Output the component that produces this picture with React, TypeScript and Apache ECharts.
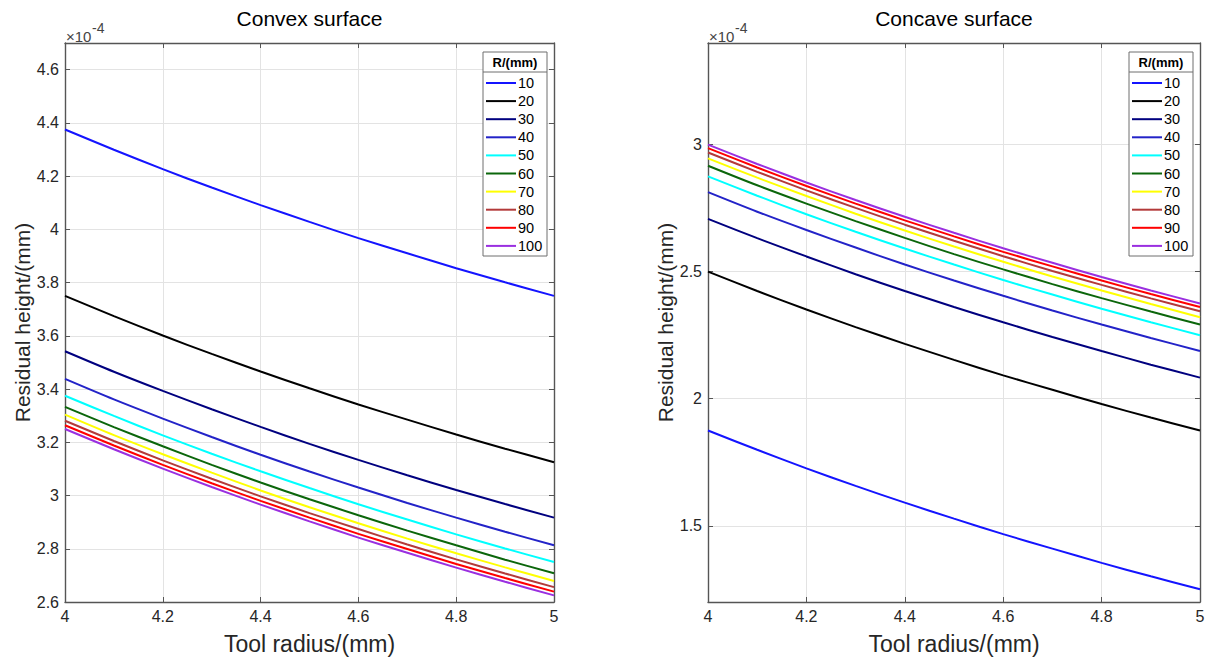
import React, { useEffect, useRef } from 'react';
import * as echarts from 'echarts';

// Tool radius (mm)
const toolRadius = [4.0, 4.1, 4.2, 4.3, 4.4, 4.5, 4.6, 4.7, 4.8, 4.9, 5.0];
// Surface curvature radius R (mm)
const surfaceR = ['10', '20', '30', '40', '50', '60', '70', '80', '90', '100'];
const lineColors = ['#1414ff', '#000000', '#00007f', '#2323c8', '#00ffff', '#0b660b', '#ffff00', '#b33a3a', '#ff0000', '#9a2fe0'];

// Residual height (x1e-4 mm), convex surface
const convexR10 = [4.375, 4.299, 4.226, 4.157, 4.091, 4.028, 3.967, 3.910, 3.854, 3.801, 3.750];
const convexR20 = [3.750, 3.674, 3.601, 3.532, 3.466, 3.403, 3.342, 3.285, 3.229, 3.176, 3.125];
const convexR30 = [3.542, 3.465, 3.393, 3.324, 3.258, 3.194, 3.134, 3.076, 3.021, 2.968, 2.917];
const convexR40 = [3.438, 3.361, 3.289, 3.220, 3.153, 3.090, 3.030, 2.972, 2.917, 2.864, 2.813];
const convexR50 = [3.375, 3.299, 3.226, 3.157, 3.091, 3.028, 2.967, 2.910, 2.854, 2.801, 2.750];
const convexR60 = [3.333, 3.257, 3.185, 3.115, 3.049, 2.986, 2.926, 2.868, 2.813, 2.759, 2.708];
const convexR70 = [3.304, 3.227, 3.155, 3.086, 3.019, 2.956, 2.896, 2.838, 2.783, 2.730, 2.679];
const convexR80 = [3.281, 3.205, 3.132, 3.063, 2.997, 2.934, 2.874, 2.816, 2.760, 2.707, 2.656];
const convexR90 = [3.264, 3.188, 3.115, 3.046, 2.980, 2.917, 2.856, 2.799, 2.743, 2.690, 2.639];
const convexR100 = [3.250, 3.174, 3.101, 3.032, 2.966, 2.903, 2.842, 2.785, 2.729, 2.676, 2.625];

// Residual height (x1e-4 mm), concave surface
const concaveR10 = [1.875, 1.799, 1.726, 1.657, 1.591, 1.528, 1.467, 1.410, 1.354, 1.301, 1.250];
const concaveR20 = [2.500, 2.424, 2.351, 2.282, 2.216, 2.153, 2.092, 2.035, 1.979, 1.926, 1.875];
const concaveR30 = [2.708, 2.632, 2.560, 2.490, 2.424, 2.361, 2.301, 2.243, 2.188, 2.134, 2.083];
const concaveR40 = [2.813, 2.736, 2.664, 2.595, 2.528, 2.465, 2.405, 2.347, 2.292, 2.239, 2.188];
const concaveR50 = [2.875, 2.799, 2.726, 2.657, 2.591, 2.528, 2.467, 2.410, 2.354, 2.301, 2.250];
const concaveR60 = [2.917, 2.840, 2.768, 2.699, 2.633, 2.569, 2.509, 2.451, 2.396, 2.343, 2.292];
const concaveR70 = [2.946, 2.870, 2.798, 2.728, 2.662, 2.599, 2.539, 2.481, 2.426, 2.373, 2.321];
const concaveR80 = [2.969, 2.893, 2.820, 2.751, 2.685, 2.622, 2.561, 2.503, 2.448, 2.395, 2.344];
const concaveR90 = [2.986, 2.910, 2.837, 2.768, 2.702, 2.639, 2.578, 2.521, 2.465, 2.412, 2.361];
const concaveR100 = [3.000, 2.924, 2.851, 2.782, 2.716, 2.653, 2.592, 2.535, 2.479, 2.426, 2.375];

const convexSeries = [convexR10, convexR20, convexR30, convexR40, convexR50, convexR60, convexR70, convexR80, convexR90, convexR100];
const concaveSeries = [concaveR10, concaveR20, concaveR30, concaveR40, concaveR50, concaveR60, concaveR70, concaveR80, concaveR90, concaveR100];

const FONT = '"Liberation Sans", Arial, Helvetica, sans-serif';
const AXIS_COLOR = '#555555';
const TEXT_COLOR = '#262626';

function App() {
  const ref = useRef<HTMLDivElement>(null);

  useEffect(() => {
    if (!ref.current) return;
    const chart = echarts.init(ref.current, undefined, { renderer: 'svg' });

    const grids = [
      { left: 65, right: 655, top: 43, bottom: 58 },
      { left: 708, right: 9, top: 43, bottom: 58 },
    ];

    const xBottom = (gi: number) => ({
      type: 'value', gridIndex: gi, min: 4, max: 5, interval: 0.2, position: 'bottom',
      name: 'Tool radius/(mm)', nameLocation: 'middle', nameGap: 30,
      nameTextStyle: { fontSize: 23, color: TEXT_COLOR, fontFamily: FONT },
      axisLine: { show: true, onZero: false, lineStyle: { color: AXIS_COLOR, width: 1.4 } },
      axisTick: { show: true, inside: true, length: 5, lineStyle: { color: AXIS_COLOR } },
      axisLabel: { fontSize: 16, color: TEXT_COLOR, fontFamily: FONT, margin: 6 },
      splitLine: { show: true, lineStyle: { color: '#e3e3e3', width: 1 } },
    });
    const xTop = (gi: number) => ({
      type: 'value', gridIndex: gi, min: 4, max: 5, interval: 0.2, position: 'top',
      axisLine: { show: true, onZero: false, lineStyle: { color: AXIS_COLOR, width: 1.4 } },
      axisTick: { show: true, inside: true, length: 5, lineStyle: { color: AXIS_COLOR } },
      axisLabel: { show: false },
      splitLine: { show: false },
    });
    const yLeft = (gi: number, min: number, max: number, interval?: number) => ({
      type: 'value', gridIndex: gi, min, max, ...(interval ? { interval } : { splitNumber: 5 }), position: 'left',
      name: 'Residual height/(mm)', nameLocation: 'middle', nameGap: 32, nameRotate: 90,
      nameTextStyle: { fontSize: 21, color: TEXT_COLOR, fontFamily: FONT },
      axisLine: { show: true, onZero: false, lineStyle: { color: AXIS_COLOR, width: 1.4 } },
      axisTick: { show: true, inside: true, length: 5, lineStyle: { color: AXIS_COLOR } },
      axisLabel: { fontSize: 16, color: TEXT_COLOR, fontFamily: FONT, margin: 6, showMaxLabel: false, showMinLabel: interval ? true : false },
      splitLine: { show: true, lineStyle: { color: '#e3e3e3', width: 1 } },
    });
    const yRight = (gi: number, min: number, max: number, interval?: number) => ({
      type: 'value', gridIndex: gi, min, max, ...(interval ? { interval } : { splitNumber: 5 }), position: 'right',
      axisLine: { show: true, onZero: false, lineStyle: { color: AXIS_COLOR, width: 1.4 } },
      axisTick: { show: true, inside: true, length: 5, lineStyle: { color: AXIS_COLOR } },
      axisLabel: { show: false },
      splitLine: { show: false },
    });

    const makeSeries = (sets: number[][], axisIdx: number) =>
      sets.map((vals, i) => ({
        type: 'line',
        name: surfaceR[i],
        xAxisIndex: axisIdx,
        yAxisIndex: axisIdx,
        data: toolRadius.map((x, j) => [x, vals[j]]),
        showSymbol: false,
        symbol: 'none',
        smooth: 0.3,
        lineStyle: { color: lineColors[i], width: 2 },
        itemStyle: { color: lineColors[i] },
        z: 3 + i,
      }));

    const legendGraphics = (boxLeft: number, boxTop: number) => {
      const w = 64;
      const h = 204;
      const els: any[] = [
        { type: 'rect', shape: { x: boxLeft, y: boxTop, width: w, height: h }, style: { fill: '#fff', stroke: '#6e6e6e', lineWidth: 1 }, z: 50 },
        { type: 'line', shape: { x1: boxLeft, y1: boxTop + 20, x2: boxLeft + w, y2: boxTop + 20 }, style: { stroke: '#6e6e6e', lineWidth: 1 }, z: 51 },
        { type: 'text', x: boxLeft + w / 2, y: boxTop + 10.5, style: { text: 'R/(mm)', align: 'center', verticalAlign: 'middle', fontSize: 13, fontWeight: 'bold', fill: '#000', fontFamily: FONT }, z: 52 },
      ];
      surfaceR.forEach((name, i) => {
        const y = boxTop + 31 + i * 18.1;
        els.push({ type: 'line', shape: { x1: boxLeft + 3, y1: y, x2: boxLeft + 33, y2: y }, style: { stroke: lineColors[i], lineWidth: 2 }, z: 52 });
        els.push({ type: 'text', x: boxLeft + 35, y, style: { text: name, align: 'left', verticalAlign: 'middle', fontSize: 14.5, fill: '#000', fontFamily: FONT }, z: 52 });
      });
      return els;
    };

    const expGraphics = (x: number) => [
      { type: 'text', x, y: 36, style: { text: '×10', align: 'left', verticalAlign: 'middle', fontSize: 15, fill: '#444', fontFamily: FONT } },
      { type: 'text', x: x + 26, y: 28, style: { text: '-4', align: 'left', verticalAlign: 'middle', fontSize: 14, fill: '#444', fontFamily: FONT } },
    ];

    const option: any = {
      animation: false,
      backgroundColor: '#ffffff',
      grid: grids.map((g) => ({ ...g, containLabel: false })),
      xAxis: [xBottom(0), xTop(0), xBottom(1), xTop(1)],
      yAxis: [yLeft(0, 2.6, 4.7, 0.2), yRight(0, 2.6, 4.7, 0.2), yLeft(1, 1.2, 3.4), yRight(1, 1.2, 3.4)],
      series: [...makeSeries(convexSeries, 0), ...makeSeries(concaveSeries, 2)],
      graphic: [
        { type: 'text', x: 309.5, y: 18, style: { text: 'Convex surface', align: 'center', verticalAlign: 'middle', fontSize: 21, fill: '#000', fontFamily: FONT } },
        { type: 'text', x: 954, y: 18, style: { text: 'Concave surface', align: 'center', verticalAlign: 'middle', fontSize: 21, fill: '#000', fontFamily: FONT } },
        ...expGraphics(66),
        ...expGraphics(709),
        ...legendGraphics(483, 52),
        ...legendGraphics(1129, 52),
      ],
    };

    chart.setOption(option);
    return () => chart.dispose();
  }, []);

  return (
    <div
      ref={ref}
      style={{ position: 'fixed', left: 0, top: 0, width: 1209, height: 660, background: '#fff' }}
    />
  );
}

export default App;
